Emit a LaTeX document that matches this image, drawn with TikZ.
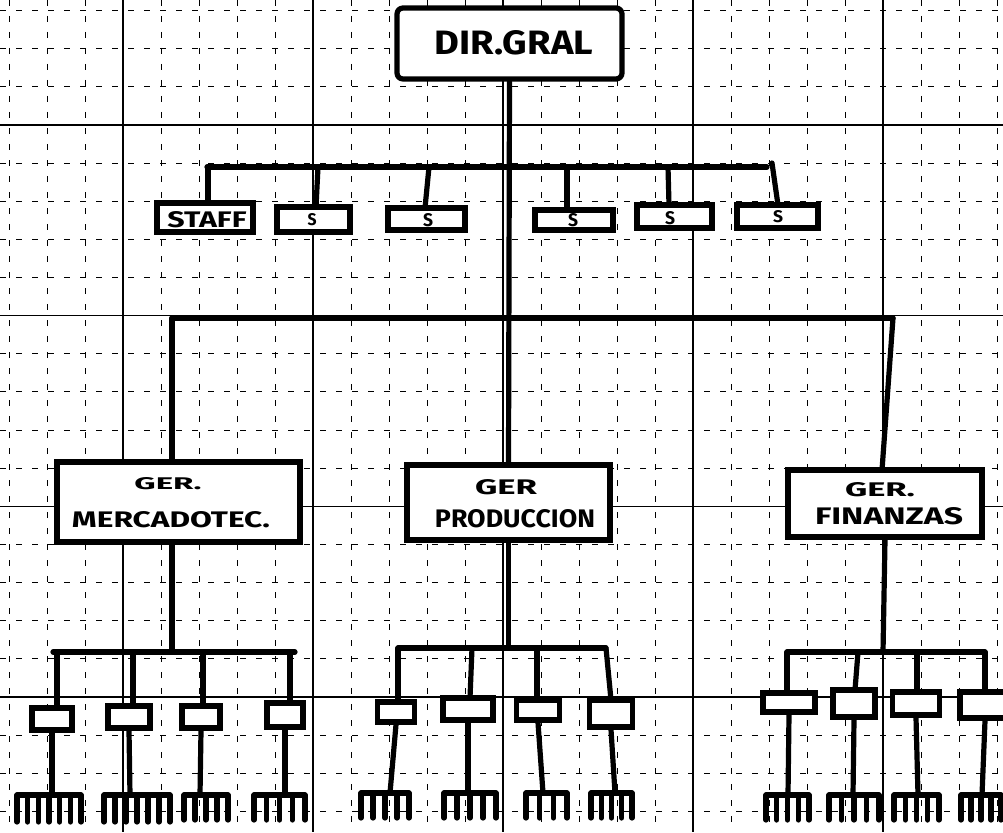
\documentclass[tikz,border=0pt]{standalone}
\usepackage{fontspec}
\setmainfont{Fira Sans}
\usepackage{graphicx}
\tikzset{
 diag/.style={line width=5.2pt, line cap=round, line join=round},
 minorline/.style={line width=0.9pt, dash pattern=on 6pt off 10pt},
 majorline/.style={line width=1.4pt},
 bx/.style={draw, line width=5.2pt, inner sep=0pt},
 lbl/.style={inner sep=0pt, font=\bfseries},
}
\newcommand{\fitt}[3]{\resizebox{#1pt}{#2pt}{#3}}
\newcommand{\myrake}[5]{% x1 x2 y ybottom n
  \draw[diag] (#1,#3) -- (#2,#3);
  \foreach \i in {1,...,#5}{%
    \pgfmathsetmacro\tx{#1+(#2-#1)*(\i-1)/(#5-1)}%
    \draw[diag] (\tx,#3) -- (\tx,#4);}%
}
\begin{document}
\begin{tikzpicture}[x=1pt,y=-1pt]
\useasboundingbox (0,0) rectangle (1003,832);
\fill[white] (0,0) rectangle (1003,832);
\clip (0,0) rectangle (1003,832);
% grid paper
\foreach \k in {0,...,26}{%
  \pgfmathsetmacro\gx{9+38*\k}%
  \pgfmathtruncatemacro\m{mod(\k,5)}%
  \ifnum\m=3 \draw[majorline] (\gx,0) -- (\gx,832);
  \else \draw[minorline] (\gx,0) -- (\gx,832); \fi}
\foreach \k in {0,...,21}{%
  \pgfmathsetmacro\gy{10.6+38.13*\k}%
  \pgfmathtruncatemacro\m{mod(\k,5)}%
  \ifnum\m=3 \draw[majorline] (0,\gy) -- (1003,\gy);
  \else \draw[minorline] (0,\gy) -- (1003,\gy); \fi}

% top
\node[bx, fill=white, minimum width=225pt, minimum height=71pt, rounded corners=6pt] (dir) at (509.5,43.5) {};
\node[lbl] (dirt) at (514,43) {\fitt{158}{24}{DIR.GRAL}};

% staff boxes
\node[bx, fill=white, minimum width=96pt, minimum height=29pt] (st0) at (205,217.5) {};
\node[lbl] (st0t) at (207,220) {\fitt{79}{16}{STAFF}};
\node[bx, fill=white, minimum width=73pt, minimum height=25pt] (st1) at (313.5,219.5) {};
\node[lbl] (st1t) at (312,220) {\fitt{9}{12}{S}};
\node[bx, fill=white, minimum width=77pt, minimum height=22pt] (st2) at (426.5,219) {};
\node[lbl] (st2t) at (428,220) {\fitt{10}{13}{S}};
\node[bx, fill=white, minimum width=78pt, minimum height=20pt] (st3) at (574,220) {};
\node[lbl] (st3t) at (573,220) {\fitt{10}{13}{S}};
\node[bx, fill=white, minimum width=75pt, minimum height=23pt] (st4) at (674.5,216.5) {};
\node[lbl] (st4t) at (670,218) {\fitt{10}{13}{S}};
\node[bx, fill=white, minimum width=81pt, minimum height=23pt] (st5) at (777.5,216.5) {};
\node[lbl] (st5t) at (778,217) {\fitt{10}{12}{S}};

% managers
\node[bx, fill=white, minimum width=243pt, minimum height=80pt] (merc) at (178.5,502) {};
\node[lbl] (merct1) at (168,484) {\fitt{67}{12}{GER.}};
\node[lbl] (merct2) at (171,520) {\fitt{198}{16}{MERCADOTEC.}};
\node[bx, fill=white, minimum width=203pt, minimum height=75pt] (prod) at (508.5,502.5) {};
\node[lbl] (prodt1) at (506,487) {\fitt{62}{15}{GER}};
\node[lbl] (prodt2) at (515,519) {\fitt{160}{18}{PRODUCCION}};
\node[bx, fill=white, minimum width=194pt, minimum height=67pt] (fin) at (885,503.5) {};
\node[lbl] (fint1) at (880,490) {\fitt{70}{14}{GER.}};
\node[lbl] (fint2) at (889,516) {\fitt{148}{17}{FINANZAS}};

% connectors top
\draw[diag] (dir.south) -- (prod.north);
\coordinate (sbL) at (207,167);
\coordinate (sbR) at (767,167);
\draw[diag] (sbL) -- (sbR);
\coordinate (sd0) at (208,167);
\coordinate (sd1) at (318,167);
\coordinate (sd2) at (429,167);
\coordinate (sd3) at (567,167);
\coordinate (sd4) at (668,167);
\coordinate (sd5) at (772,163);
\draw[diag] (sd0) -- (sd0 |- st0.north);
\draw[diag] (sd1) -- (316,207);
\draw[diag] (sd2) -- (425,208);
\draw[diag] (sd3) -- (sd3 |- st3.north);
\draw[diag] (sd4) -- (669,205);
\draw[diag] (sd5) -- (778,205);
\coordinate (gbL) at (172,318);
\coordinate (gbR) at (893,318);
\draw[diag] (gbL) -- (gbR);
\draw[diag] (gbL) -- (gbL |- merc.north);
\draw[diag] (gbR) -- (882,470);

% ---- Mercadotecnia group
\node[bx, fill=white, minimum width=40pt, minimum height=22pt] (m1) at (52,719) {};
\node[bx, fill=white, minimum width=42pt, minimum height=22pt] (m2) at (129,717) {};
\node[bx, fill=white, minimum width=38pt, minimum height=22pt] (m3) at (201,717) {};
\node[bx, fill=white, minimum width=36pt, minimum height=24pt] (m4) at (285,715) {};
\coordinate (mb) at (172,652);
\draw[diag] (172,542) -- (mb);
\draw[diag] (53,652) -- (295,652);
\draw[diag] (57,652) -- (57,708);
\draw[diag] (133,652) -- (133,706);
\draw[diag] (203,652) -- (203,706);
\draw[diag] (290,652) -- (290,703);
\draw[diag] (m1.south) -- (52,795);
\draw[diag] (m2.south) -- (130,795);
\draw[diag] (m3.south) -- (200,795);
\draw[diag] (m4.south) -- (285,795);
\myrake{17}{81}{795}{822}{7}
\myrake{104}{170}{795}{822}{7}
\myrake{184}{228}{795}{820}{5}
\myrake{254}{305}{795}{820}{5}

% ---- Produccion group
\node[bx, fill=white, minimum width=37pt, minimum height=20pt] (p1) at (396,712) {};
\node[bx, fill=white, minimum width=50pt, minimum height=22pt] (p2) at (468,709) {};
\node[bx, fill=white, minimum width=43pt, minimum height=20pt] (p3) at (538,710) {};
\node[bx, fill=white, minimum width=43pt, minimum height=27pt] (p4) at (611,713.5) {};
\draw[diag] (prod.south) -- (508.5,648);
\draw[diag] (398,648) -- (606,648);
\draw[diag] (398,648) -- (398,702);
\draw[diag] (472,648) -- (470,698);
\draw[diag] (537,648) -- (537,700);
\draw[diag] (606,648) -- (611,700);
\draw[diag] (p1.south) -- (390,793);
\draw[diag] (p2.south) -- (468,793);
\draw[diag] (p3.south) -- (543,793);
\draw[diag] (p4.south) -- (615,793);
\myrake{361}{409}{793}{818}{5}
\myrake{444}{496}{793}{818}{5}
\myrake{526}{567}{793}{818}{4}
\myrake{591}{632}{793}{818}{5}

% ---- Finanzas group
\node[bx, fill=white, minimum width=52pt, minimum height=19pt] (f1) at (789,702.5) {};
\node[bx, fill=white, minimum width=42pt, minimum height=27pt] (f2) at (854,703.5) {};
\node[bx, fill=white, minimum width=47pt, minimum height=23pt] (f3) at (916,703.5) {};
\node[bx, fill=white, minimum width=50pt, minimum height=26pt] (f4) at (985,705) {};
\draw[diag] (fin.south) -- (883,652);
\draw[diag] (787,652) -- (985,652);
\draw[diag] (787,652) -- (787,693);
\draw[diag] (858,652) -- (855,690);
\draw[diag] (917,652) -- (917,692);
\draw[diag] (985,652) -- (985,692);
\draw[diag] (f1.south) -- (788,795);
\draw[diag] (f2.south) -- (853,795);
\draw[diag] (f3.south) -- (918,795);
\draw[diag] (f4.south) -- (982,795);
\myrake{766}{809}{795}{820}{5}
\myrake{829}{879}{795}{820}{5}
\myrake{894}{939}{795}{820}{5}
\myrake{961}{1001}{795}{820}{5}
\end{tikzpicture}
\end{document}
